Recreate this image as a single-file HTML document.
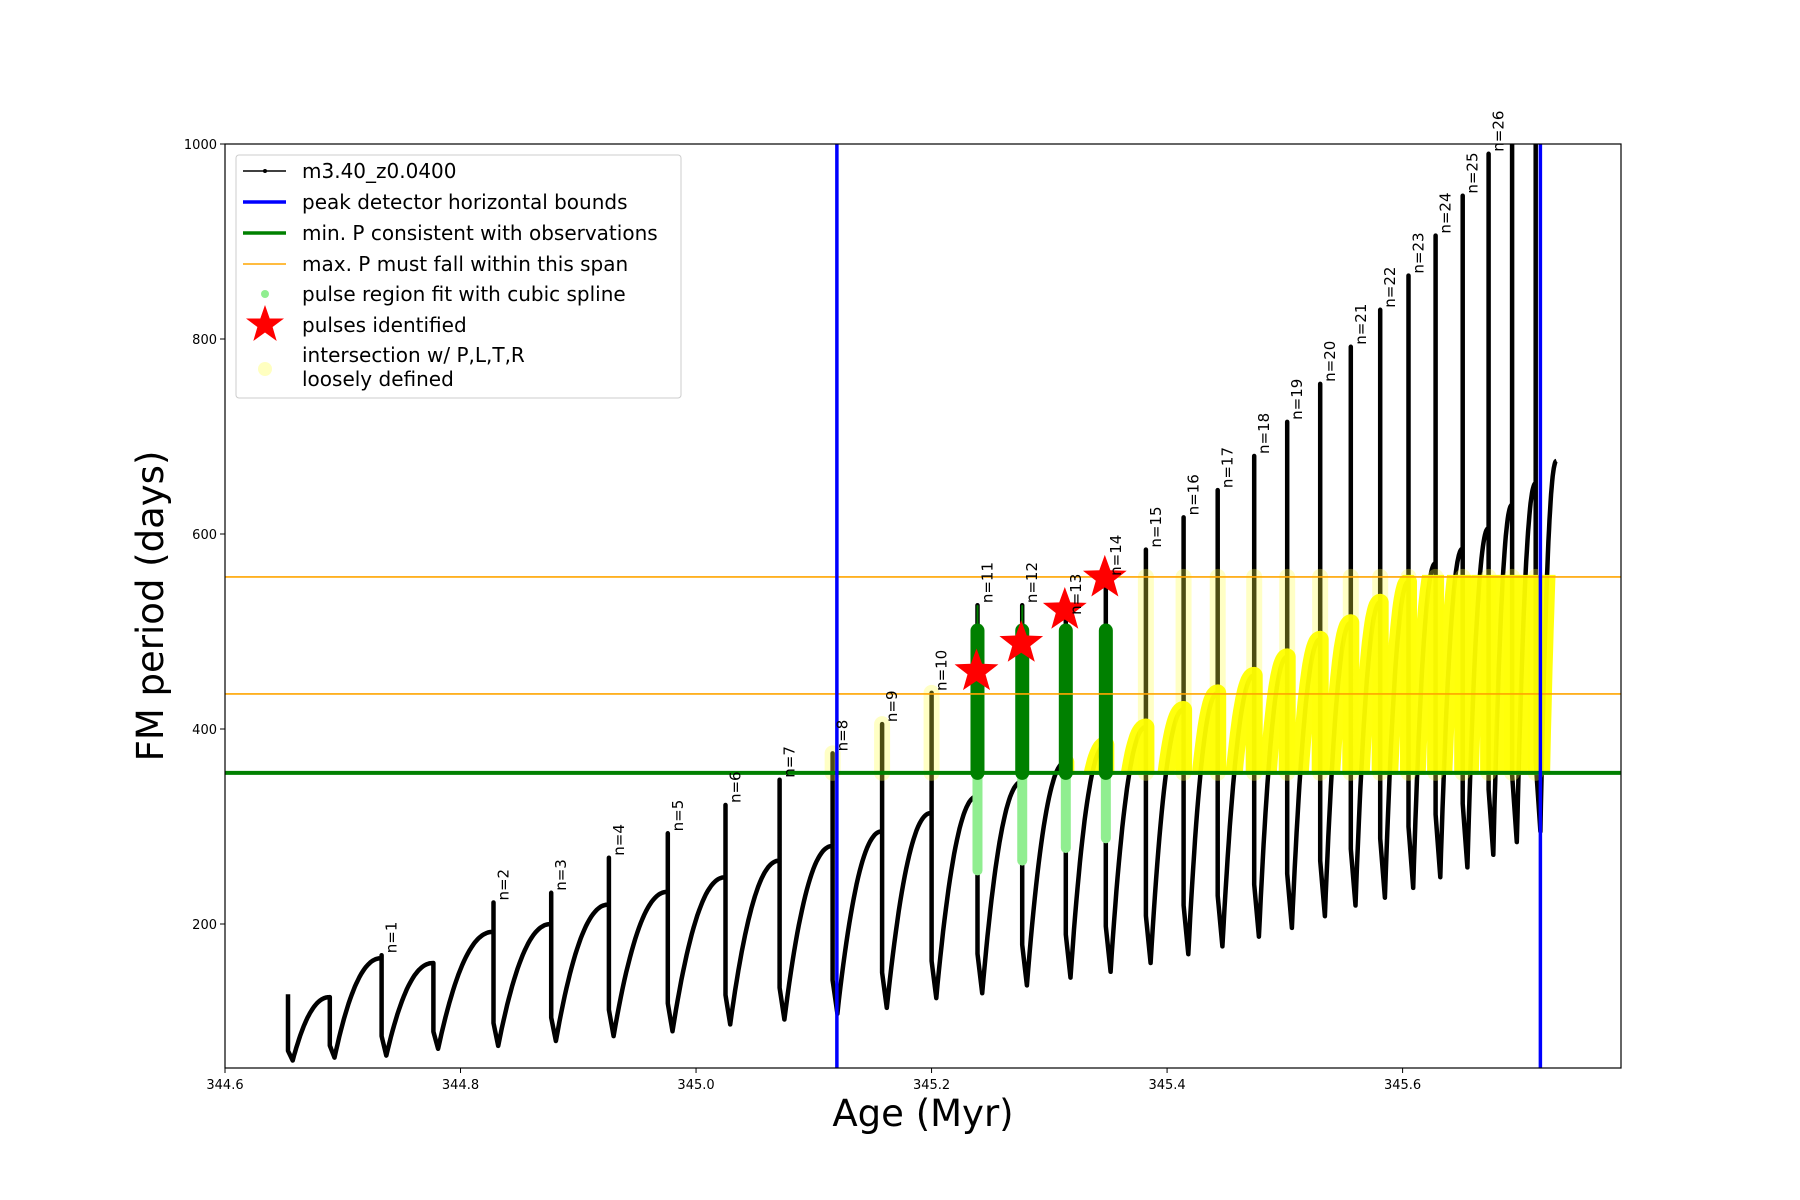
<!DOCTYPE html>
<html><head><meta charset="utf-8"><style>
html,body{margin:0;padding:0;background:#fff;}
svg{display:block;font-family:"DejaVu Sans","Liberation Sans",sans-serif;}
</style></head><body>
<svg id="chart" width="1800" height="1200" viewBox="0 0 1800 1200" xmlns="http://www.w3.org/2000/svg">
<defs><clipPath id="plotclip"><rect x="225" y="144" width="1396" height="924"/></clipPath>
<clipPath id="yelclip"><rect x="1062" y="144" width="494" height="924"/></clipPath></defs>
<rect x="0" y="0" width="1800" height="1200" fill="#fff"/>
<g id="plot" clip-path="url(#plotclip)"></g>
<g id="labels"></g>
<g id="axes"></g>
</svg>
<script>
// ---- data ----
const startAge = 344.6535;
const startTop = 128;
const startMin = 60;
const spikeAges = [344.689,344.733,344.777,344.828,344.877,344.926,344.976,345.025,345.071,345.116,345.158,345.200,345.239,345.277,345.314,345.348,345.382,345.414,345.443,345.474,345.502,345.530,345.556,345.581,345.605,345.628,345.651,345.673,345.693,345.713];
const prePeaks = [125,165,160,192,200,220,233,248,265,280,295,314,331,346,366,384,402,420,437,455,474,492,509,530,551,570,585,606,630,652];
const spikeTops = [125,168,160,222,232,268,293,322,348,375,405,437,527,527,515,555,584,617,645,680,715,754,792,830,865,906,947,990,1050,1100];
const postMins = [63,65,72,75,80,85,90,97,102,108,114,124,129,137,145,151,160,169,177,187,196,208,219,227,237,248,258,271,284,295];
const labelN = [null,1,null,2,3,4,5,6,7,8,9,10,11,12,13,14,15,16,17,18,19,20,21,22,23,24,25,26,null,null];
const endAge = 345.7307;
const endP = 675;
const pulseIdx = [12,13,14,15];
const starP = [459,488,522,555];
const greenTop = [501,501,501,501];
const greenThinTop = [527,527,null,null];
const lightGreenBottom = [255,265,278,288];
const blueBounds = [345.1196,345.717];
const minP = 355;
const maxSpan = [436,556];
const xTicks = [344.6,344.8,345.0,345.2,345.4,345.6];
const xTickLabels = ["344.6","344.8","345.0","345.2","345.4","345.6"];
const yTicks = [200,400,600,800,1000];
const yTickLabels = ["200","400","600","800","1000"];

// ---- axes functions ----
const X0=225,X1=1621,Y0=144,Y1=1068;
function xs(a){return X0+(a-344.6)*1177.6;}
function ys(p){return Y0+(1000-p)*0.975;}
const NS="http://www.w3.org/2000/svg";
function mk(tag,attrs,parent){const e=document.createElementNS(NS,tag);for(const k in attrs)e.setAttribute(k,attrs[k]);parent.appendChild(e);return e;}
const plot=document.getElementById('plot');
const labels=document.getElementById('labels');
const axes=document.getElementById('axes');
function toD(arr){return arr.map((q,i)=>(i?'L':'M')+xs(q[0]).toFixed(1)+' '+ys(q[1]).toFixed(1)).join(' ');}

// build curve
const riseSegs=[];
function rise(pts,a0,m,a1,p,last){const N=30;const seg=[[a0,m]];for(let i=1;i<=N;i++){const t=i/N;const f=1-Math.pow(1-t,2.2);const q=[a0+(a1-a0)*t,m+(p-m)*f];pts.push(q);seg.push(q);}
  if(!last)seg.push([a1,minP-6]);riseSegs.push(seg);}
const pts=[[startAge,startTop],[startAge,startMin+10],[startAge+0.004,startMin]];
rise(pts,startAge+0.004,startMin,spikeAges[0],prePeaks[0],false);
for(let i=0;i<spikeAges.length;i++){
  const a=spikeAges[i],p=prePeaks[i],T=spikeTops[i],m=postMins[i];
  const s=m+0.2*(p-m);
  pts.push([a,T]);pts.push([a,s]);pts.push([a+0.004,m]);
  const last=!(i+1<spikeAges.length);
  const na=!last?spikeAges[i+1]:endAge;
  const np=!last?prePeaks[i+1]:endP;
  rise(pts,a+0.004,m,na,np,last);
}
const d=toD(pts);

const curve=mk('path',{d:d,fill:'none',stroke:'#000','stroke-width':4.5,'stroke-linejoin':'round'},plot);



// pale yellow spike columns
spikeAges.forEach((a,i)=>{
  if(i<9||pulseIdx.includes(i))return;
  const top=Math.min(maxSpan[1],spikeTops[i]);
  if(top<=minP)return;
  const c=mk('line',{x1:xs(a),x2:xs(a),y1:ys(top),y2:ys(minP),stroke:'#ffff40','stroke-opacity':0.3,'stroke-width':16,'stroke-linecap':'round'},plot);
  
  
});

// yellow intersection band on rising branches (plus descent at spike)
const yg=mk('g',{'clip-path':'url(#yelclip)'},plot);
const band=mk('clipPath',{id:'bandclip'},yg);
mk('rect',{x:X0,y:ys(maxSpan[1])-2,width:X1-X0,height:ys(minP)-ys(maxSpan[1])+4},band);
const yd=riseSegs.map(toD).join(' ');
const yp=mk('path',{d:yd,fill:'none',stroke:'#ffff00','stroke-opacity':0.95,'stroke-width':17,'stroke-linejoin':'round','stroke-linecap':'round','clip-path':'url(#bandclip)'},yg);



// green pulse regions
pulseIdx.forEach((idx,k)=>{
  const x=xs(spikeAges[idx]);
  const lg=mk('line',{x1:x,x2:x,y1:ys(minP),y2:ys(lightGreenBottom[k]),stroke:'#90ee90','stroke-width':10,'stroke-linecap':'round'},plot);
  
  
  if(greenThinTop[k]){const tl=mk('line',{x1:x,x2:x,y1:ys(greenThinTop[k]),y2:ys(greenTop[k]),stroke:'#008000','stroke-width':2},plot);
    
    }
  const g=mk('line',{x1:x,x2:x,y1:ys(greenTop[k]),y2:ys(minP),stroke:'#008000','stroke-width':14,'stroke-linecap':'round'},plot);
  
  
});

// horizontal lines
maxSpan.forEach(v=>{const l=mk('line',{x1:X0,x2:X1,y1:ys(v),y2:ys(v),stroke:'#ffa500','stroke-width':1.6},plot);
  
  });
const gl=mk('line',{x1:X0,x2:X1,y1:ys(minP),y2:ys(minP),stroke:'#008000','stroke-width':4},plot);


blueBounds.forEach(v=>{const l=mk('line',{x1:xs(v),x2:xs(v),y1:Y0,y2:Y1,stroke:'#0000ff','stroke-width':3.5},plot);
  
  });

// stars
function starPts(cx,cy,R,r){let s=[];for(let i=0;i<10;i++){const ang=-Math.PI/2+i*Math.PI/5;const rr=i%2?r:R;s.push((cx+rr*Math.cos(ang)).toFixed(1)+','+(cy+rr*Math.sin(ang)).toFixed(1));}return s.join(' ');}
pulseIdx.forEach((idx,k)=>{
  const st=mk('polygon',{points:starPts(xs(spikeAges[idx])-1,ys(starP[k]),23,9.5),fill:'#ff0000'},plot);
  
  
});

// n labels
spikeAges.forEach((a,i)=>{
  if(labelN[i]===null)return;
  const x=xs(a)+15,y=ys(Math.min(spikeTops[i],1000))-2;
  const t=mk('text',{x:x,y:y,transform:`rotate(-90 ${x} ${y})`,'font-size':15,fill:'#000'},labels);
  t.textContent='n='+labelN[i];
  
  
});

// axes frame & ticks
const fr=mk('rect',{x:X0,y:Y0,width:X1-X0,height:Y1-Y0,fill:'none',stroke:'#000','stroke-width':1.2},axes);


xTicks.forEach((v,i)=>{const x=xs(v);mk('line',{x1:x,x2:x,y1:Y1,y2:Y1+5,stroke:'#000','stroke-width':1},axes);
  const t=mk('text',{x:x,y:Y1+21,'text-anchor':'middle','font-size':13},axes);t.textContent=xTickLabels[i];
  
  });
yTicks.forEach((v,i)=>{const y=ys(v);mk('line',{x1:X0-5,x2:X0,y1:y,y2:y,stroke:'#000','stroke-width':1},axes);
  const t=mk('text',{x:X0-8,y:y+5,'text-anchor':'end','font-size':13},axes);t.textContent=yTickLabels[i];
  
  });
</script>
<svg style="position:absolute;left:0;top:0" width="1800" height="1200">
<text x="923" y="1126" text-anchor="middle" font-size="37" font-family="DejaVu Sans, Liberation Sans, sans-serif">Age (Myr)</text>
<text x="163" y="606" text-anchor="middle" font-size="37" font-family="DejaVu Sans, Liberation Sans, sans-serif" transform="rotate(-90 163 606)">FM period (days)</text>
<g font-family="DejaVu Sans, Liberation Sans, sans-serif" font-size="20">
<rect x="236" y="155" width="445" height="243" rx="3" fill="#fff" fill-opacity="0.85" stroke="#ccc" stroke-width="1"/>
<line x1="243" y1="171" x2="286" y2="171" stroke="#000" stroke-width="1.6"/><circle cx="265" cy="171" r="2" fill="#000"/>
<text x="302" y="178">m3.40_z0.0400</text>
<line x1="243" y1="202" x2="286" y2="202" stroke="#0000ff" stroke-width="3.5"/>
<text x="302" y="209">peak detector horizontal bounds</text>
<line x1="243" y1="233" x2="286" y2="233" stroke="#008000" stroke-width="3.5"/>
<text x="302" y="240">min. P consistent with observations</text>
<line x1="243" y1="264" x2="286" y2="264" stroke="#ffa500" stroke-width="1.6"/>
<text x="302" y="271">max. P must fall within this span</text>
<circle cx="265" cy="294" r="4" fill="#90ee90"/>
<text x="302" y="301">pulse region fit with cubic spline</text>
<polygon points="265,305 269.7,318.5 284,318.5 272.6,327 276.7,341 265,332.5 253.3,341 257.4,327 246,318.5 260.3,318.5" fill="#ff0000"/>
<text x="302" y="332">pulses identified</text>
<circle cx="265" cy="369" r="7" fill="#ffffc0"/>
<text x="302" y="362">intersection w/ P,L,T,R</text>
<text x="302" y="386">loosely defined</text>
</g>
</svg>
</body></html>
